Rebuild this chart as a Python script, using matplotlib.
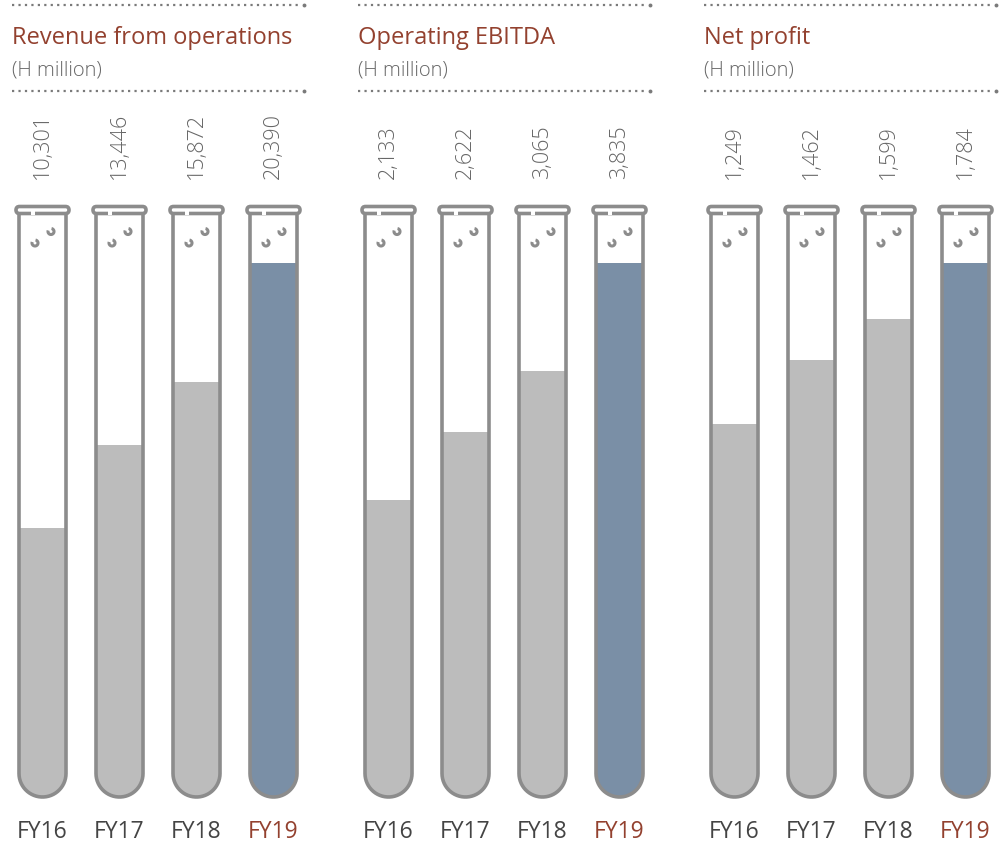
import numpy as np
import matplotlib.pyplot as plt
from matplotlib.path import Path
from matplotlib.patches import PathPatch, FancyBboxPatch, Arc, Rectangle

plt.rcParams['font.family'] = ['Open Sans', 'DejaVu Sans']

# data
titles = ['Revenue from operations', 'Operating EBITDA', 'Net profit']
unit = '(H million)'
years = ['FY16', 'FY17', 'FY18', 'FY19']
revenue = [10301, 13446, 15872, 20390]
ebitda = [2133, 2622, 3065, 3835]
net_profit = [1249, 1462, 1599, 1784]
series = [revenue, ebitda, net_profit]

# styles
title_col = '#93412f'
text_col = '#666666'
tube_col = '#8c8c8c'
grey_fill = '#bcbcbc'
blue_fill = '#7a8fa6'

fig = plt.figure(figsize=(10.01, 8.46), dpi=100)
ax = fig.add_axes([0, 0, 1, 1])
ax.set_xlim(0, 1001)
ax.set_ylim(846, 0)
ax.axis('off')

panel_x = [12, 358, 704]
panel_w = 293
tube_dx = 77
first_tube = 30.5
half_w = 23.5
top_y = 213.5
bot_y = 797
full_h = 534


def tube_path(c):
    r = half_w
    verts = [(c - r, top_y), (c - r, bot_y - r)]
    codes = [Path.MOVETO, Path.LINETO]
    theta = np.linspace(np.pi, 0, 30)
    for t in theta:
        verts.append((c + r * np.cos(t), bot_y - r + r * np.sin(t)))
        codes.append(Path.LINETO)
    verts.append((c + r, top_y))
    codes.append(Path.LINETO)
    return Path(verts, codes)


def dotted(x0, x1, y):
    ax.plot([x0, x1 - 4], [y, y], color='#7a7a7a', lw=1.6,
            ls=(0, (1, 1.9)), solid_capstyle='butt')
    ax.plot([x1 - 1], [y], marker='o', ms=2.8, color='#7a7a7a', mew=0)


for p, (x0, vals, title) in enumerate(zip(panel_x, series, titles)):
    dotted(x0, x0 + panel_w, 5)
    dotted(x0, x0 + panel_w, 91.5)
    ax.text(x0, 44, title, color=title_col, fontsize=17, va='baseline', ha='left')
    ax.text(x0, 76, unit, color=text_col, fontsize=14.5, va='baseline', ha='left',
            fontweight='light')
    vmax = max(vals)
    for i, (v, yr) in enumerate(zip(vals, years)):
        c = x0 + first_tube + i * tube_dx
        last = i == len(vals) - 1
        # fill
        path = tube_path(c)
        clip = PathPatch(Path(list(path.vertices) + [(c - half_w, top_y)],
                              closed=False), transform=ax.transData,
                         fc='none', ec='none')
        ax.add_patch(clip)
        h = full_h * v / vmax
        rect = Rectangle((c - half_w, bot_y - h + 0.5), 2 * half_w, h + 5,
                         color=blue_fill if last else grey_fill, zorder=1, lw=0)
        ax.add_patch(rect)
        rect.set_clip_path(clip)
        # outline
        ax.add_patch(PathPatch(path, fc='none', ec=tube_col, lw=2.6, zorder=3,
                               capstyle='butt', joinstyle='round'))
        # rim
        ax.add_patch(FancyBboxPatch((c - 26.5, 206.5), 53, 7,
                                    boxstyle='round,pad=0,rounding_size=3.5',
                                    fc='white', ec=tube_col, lw=2.6, zorder=4))
        ax.add_patch(Rectangle((c - 11.5, 211.5), 4, 4, fc='white', ec='none', zorder=5))
        # bubbles
        for bx, by in [(c - 7.5, 243), (c + 8.5, 231.5)]:
            ax.add_patch(Arc((bx, by), 6, 6, theta1=-80, theta2=200,
                             color=tube_col, lw=2.2, zorder=4))
        # value label
        ax.text(c, 179, f'{v:,}', rotation=90, ha='center', va='bottom',
                color=text_col, fontsize=15.5, fontweight='light')
        # year label
        ax.text(c, 832, yr, ha='center', va='center', fontsize=16.5,
                color=title_col if last else '#444444')

fig.savefig('out.png', dpi=100)
